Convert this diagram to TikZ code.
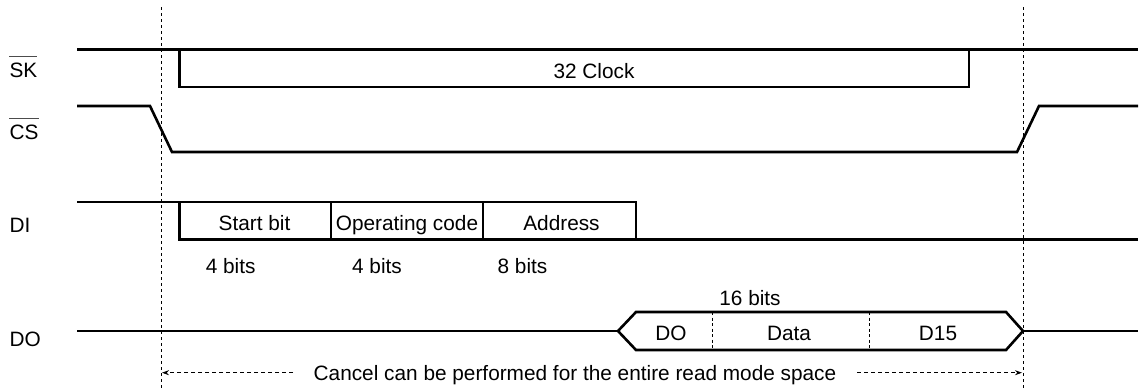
\documentclass[tikz,border=0pt]{standalone}
\usepackage{fontspec}
\setmainfont{Liberation Sans}
\usetikzlibrary{arrows.meta}
\begin{document}
\begin{tikzpicture}[x=1pt,y=-1pt,
  sig/.style={line width=2.6pt, line join=miter, line cap=butt},
  guide/.style={line width=0.9pt, dash pattern=on 3.3pt off 2.7pt},
  fine/.style={line width=0.8pt, dash pattern=on 3pt off 2.5pt},
  arr/.style={line width=0.8pt, dash pattern=on 4pt off 3pt, -{Stealth[length=7pt,width=5pt]}},
  lbl/.style={font=\fontsize{20.8}{24}\selectfont, inner sep=0pt, anchor=base},
  sname/.style={lbl, anchor=base west},
  bar/.style={line width=1.1pt, black!70},
  ]
\useasboundingbox (0,0) rectangle (1141,388);

% guide lines
\coordinate (gTop1) at (161,7);
\coordinate (gBot1) at (161,388);
\coordinate (gTop2) at (1023,7);
\coordinate (gBot2) at (1023,388);
\draw[guide] (gTop1) -- (gBot1);
\draw[guide] (gTop2) -- (gBot2);

% signal names
\node[sname] (sk) at (9.3,77.3) {SK};
\node[sname] (cs) at (9.3,139.3) {CS};
\node[sname] (di) at (9.3,232.7) {DI};
\node[sname] (do) at (9.3,346.7) {DO};
\draw[bar] ([yshift=6pt]sk.north west) -- ([yshift=6pt]sk.north east);
\draw[bar] ([yshift=6pt]cs.north west) -- ([yshift=6pt]cs.north east);

% SK
\draw[sig] (77,49.5) -- (1138,49.5);
\draw[sig] (179.5,49.5) -- (179.5,87) -- (969,87) -- (969,49.5);
\node[lbl] (clk) at (594,78) {32 Clock};

% CS
\draw[sig] (77,106) -- (150,106) -- (172,152) -- (1017,152) -- (1039,106) -- (1138,106);

% DI
\draw[sig] (77,202) -- (636,202) -- (636,239.5) -- (1138,239.5);
\draw[sig] (179.5,202) -- (179.5,239.5) -- (636,239.5);
\draw[sig] (331,202) -- (331,239.5);
\draw[sig] (483,202) -- (483,239.5);
\node[lbl] (start) at (254.5,230.7) {Start bit};
\node[lbl] (opc) at (407,230.7) {Operating code};
\node[lbl] (addr) at (561.5,230.7) {Address};
\node[lbl] (b1) at (230.7,273.3) {4 bits};
\node[lbl] (b2) at (377,273.3) {4 bits};
\node[lbl] (b3) at (522.5,273.3) {8 bits};

% DO
\draw[sig] (77,331) -- (618,331);
\draw[sig] (618,331) -- (636,312) -- (1006,312) -- (1023,331) -- (1006,350) -- (636,350) -- cycle;
\draw[sig] (1023,331) -- (1138,331);
\draw[fine] (712,312) -- (712,350);
\draw[fine] (869,312) -- (869,350);
\node[lbl] (b4) at (750,305.7) {16 bits};
\node[lbl] (dox) at (671,340.7) {DO};
\node[lbl] (data) at (789,340.7) {Data};
\node[lbl] (d15) at (938,340.7) {D15};

% cancel
\node[lbl] (cancel) at (575,380.7) {Cancel can be performed for the entire read mode space};
\coordinate (aL) at (162,372.7);
\coordinate (aR) at (1022,372.7);
\draw[arr] (293,372.7) -- (aL);
\draw[arr] (857,372.7) -- (aR);
\end{tikzpicture}
\end{document}
